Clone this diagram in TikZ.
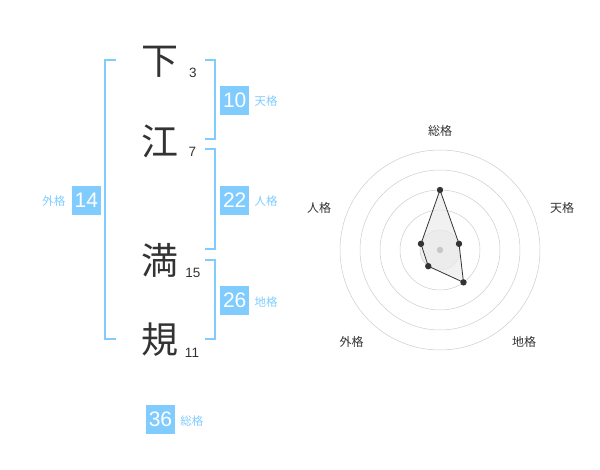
\documentclass[tikz,border=0pt]{standalone}
\usepackage{fontspec}
\setmainfont{Liberation Sans}
\newfontfamily\cjk{Noto Sans CJK JP}
\usetikzlibrary{calc, positioning}
\definecolor{kakublue}{RGB}{128,204,255}
\definecolor{ink}{RGB}{51,51,51}

\begin{document}
\begin{tikzpicture}[x=1pt, y=-1pt,
  kanji/.style={font=\cjk\fontsize{37}{37}\selectfont, text=ink, inner sep=0pt},
  strokes/.style={font=\fontsize{13.5}{13.5}\selectfont, text=ink, inner sep=0pt},
  kakubox/.style={fill=kakublue, text=white, minimum size=29pt, inner sep=0pt,
    font=\fontsize{21}{21}\selectfont},
  kakulabel/.style={font=\cjk\fontsize{11.5}{12}\selectfont, text=kakublue, inner sep=0pt},
  bracket/.style={draw=kakublue, line width=2pt},
  ring/.style={draw=black!20, line width=0.5pt},
  axislabel/.style={font=\cjk\fontsize{12}{12}\selectfont, text=ink, inner sep=0pt},
  dot/.style={fill=ink}]

  \useasboundingbox (0,0) rectangle (600,470);

  % 名前
  \node[kanji] (k1) at (160,62)  {下};
  \node[kanji] (k2) at (160,141) {江};
  \node[kanji] (k3) at (160,260) {満};
  \node[kanji] (k4) at (160,340) {規};
  \node[strokes] (s1) at (193,72.7) {3};
  \node[strokes] (s2) at (192.5,152) {7};
  \node[strokes] (s3) at (193,272.5) {15};
  \node[strokes] (s4) at (192,353) {11};

  % 括弧
  \draw[bracket] (116,60) -| (105,339.3) -- (116,339.3);
  \draw[bracket] (205,60) -| (214.5,139.3) -- (205,139.3);
  \draw[bracket] (205,149.3) -| (214.5,249.3) -- (205,249.3);
  \draw[bracket] (205,260) -| (214.5,339.3) -- (205,339.3);

  % 五格
  \node[kakubox] (ten)   at (234.7,100.3) {10};
  \node[kakubox] (jin)   at (234.7,200.3) {22};
  \node[kakubox] (chi)   at (234.7,300.3) {26};
  \node[kakubox] (gai)   at (86.3,200.3)  {14};
  \node[kakubox] (sou)   at (160.5,419.3) {36};
  \node[kakulabel, right=5pt of ten, yshift=-0.5pt] {天格};
  \node[kakulabel, right=5pt of jin, yshift=-0.5pt] {人格};
  \node[kakulabel, right=5pt of chi, yshift=-1.5pt] {地格};
  \node[kakulabel, left=6pt of gai, yshift=-0.5pt]  {外格};
  \node[kakulabel, right=5pt of sou, yshift=-2pt]   {総格};

  % レーダー
  \coordinate (O) at (440,250);
  \fill[black!6] (O) circle (20);
  \foreach \r in {20,40,...,100}
    \draw[ring] (O) circle (\r);

  \coordinate (P1) at ($(O)+(-90:60)$);   % 総格
  \coordinate (P2) at ($(O)+(-18:20)$);   % 天格
  \coordinate (P3) at ($(O)+(54:40)$);    % 地格
  \coordinate (P4) at ($(O)+(126:20)$);   % 外格
  \coordinate (P5) at ($(O)+(198:20)$);   % 人格

  \filldraw[fill=black!8, fill opacity=0.7, draw=ink, line width=0.8pt]
    (P1)--(P2)--(P3)--(P4)--(P5)--cycle;
  \fill[black!22] (O) circle (3.2);
  \foreach \p in {P1,P2,P3,P4,P5}
    \fill[dot] (\p) circle (3.2);

  \node[axislabel] (a1) at (440,130.5) {総格};
  \node[axislabel] (a2) at (562,208.3) {天格};
  \node[axislabel] (a3) at (524,341.7) {地格};
  \node[axislabel] (a4) at (351.7,341.7) {外格};
  \node[axislabel] (a5) at (319,208.3) {人格};
\end{tikzpicture}
\end{document}
